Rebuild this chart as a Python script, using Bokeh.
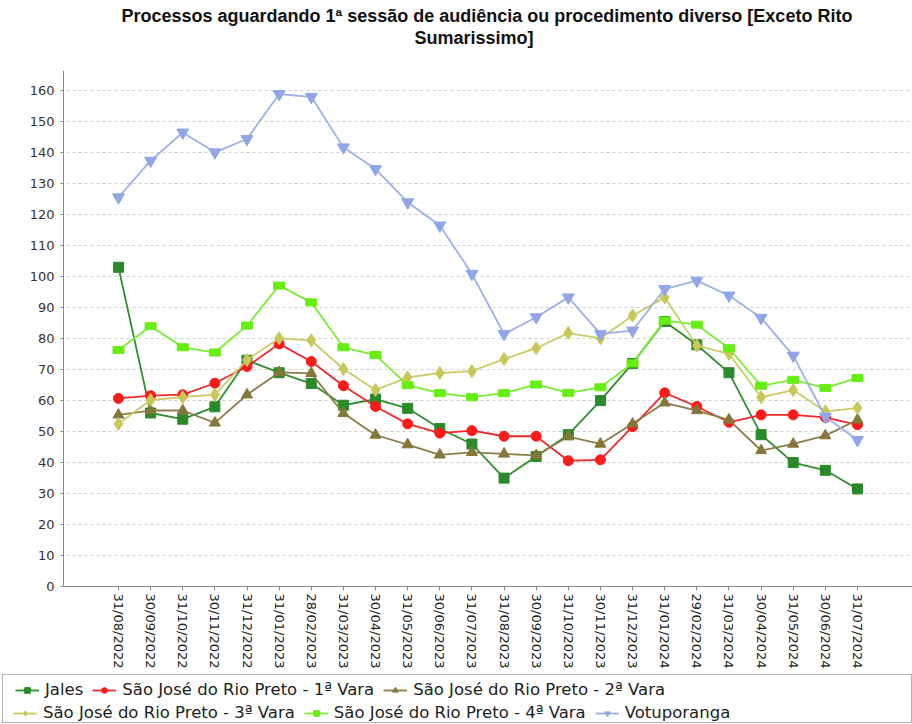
import math
from bokeh.plotting import figure
from bokeh.models import Range1d, FixedTicker, Legend, LegendItem, Title, BoxAnnotation
from bokeh.embed import file_html
from bokeh.resources import INLINE

dates = ["31/08/2022", "30/09/2022", "31/10/2022", "30/11/2022", "31/12/2022",
         "31/01/2023", "28/02/2023", "31/03/2023", "30/04/2023", "31/05/2023",
         "30/06/2023", "31/07/2023", "31/08/2023", "30/09/2023", "31/10/2023",
         "30/11/2023", "31/12/2023", "31/01/2024", "29/02/2024", "31/03/2024",
         "30/04/2024", "31/05/2024", "30/06/2024", "31/07/2024"]

jales = [103, 56, 54, 58, 73, 69, 65.5, 58.5, 60.5, 57.5, 51, 46, 35, 42, 49, 60,
         72, 85.5, 78, 69, 49, 40, 37.5, 31.5]
vara1 = [60.7, 61.6, 61.9, 65.6, 71, 78.3, 72.6, 64.8, 58.1, 52.5, 49.5, 50.3,
         48.5, 48.5, 40.6, 40.9, 51.6, 62.5, 58.1, 53, 55.4, 55.4, 54.6, 52.2]
vara2 = [55.4, 56.8, 56.8, 52.8, 61.9, 69.1, 68.8, 55.9, 48.9, 45.8, 42.5, 43.3,
         42.8, 42.3, 48.4, 46, 52.5, 59.3, 56.8, 53.8, 43.9, 46, 48.7, 53.8]
vara3 = [52.5, 60.2, 61.1, 61.9, 73.1, 80.1, 79.4, 70.2, 63.4, 67.5, 68.9, 69.5,
         73.4, 76.9, 81.8, 80.1, 87.4, 93.3, 77.7, 75.1, 61.1, 63.4, 56.5, 57.6]
vara4 = [76.3, 84, 77.2, 75.5, 84.2, 97.1, 91.7, 77.2, 74.7, 65, 62.4, 61.1,
         62.4, 65.2, 62.5, 64.3, 72, 85.8, 84.5, 76.9, 64.8, 66.7, 64.1, 67.3]
votu = [125.6, 137.4, 146.5, 140.1, 144.4, 158.9, 158, 141.7, 134.7, 124, 116.5,
        100.9, 81.5, 86.9, 93.3, 81.5, 82.6, 96, 98.7, 93.9, 86.7, 74.5, 54.8, 47.3]

series_names = ["Jales", "São José do Rio Preto - 1ª Vara", "São José do Rio Preto - 2ª Vara",
                "São José do Rio Preto - 3ª Vara", "São José do Rio Preto - 4ª Vara", "Votuporanga"]
y_ticks = list(range(0, 161, 10))

title_line1 = "Processos aguardando 1ª sessão de audiência ou procedimento diverso [Exceto Rito"
title_line2 = "Sumarissimo]"

xs = list(range(len(dates)))

# frame spans the whole width and reaches the bottom; axes are pinned at fixed positions
X0, X1 = -3.672, 24.712
Y0, Y1 = -44.5, 166.5
YAXIS_AT = -1.712

p = figure(width=912, height=724, output_backend="svg", toolbar_location=None,
           x_range=Range1d(X0, X1), y_range=Range1d(Y0, Y1),
           min_border_left=0, min_border_right=0, min_border_top=70, min_border_bottom=0)

tstyle = dict(align="left", text_font="Liberation Sans", text_font_size="18px",
              text_font_style="bold", text_color="#111111")
p.add_layout(Title(text=" ", standoff=1, align="center", text_font="Liberation Sans",
                   text_font_size="18px"), "above")
p.add_layout(Title(text=title_line2, standoff=0, offset=414, **tstyle), "above")
p.add_layout(Title(text=title_line1, standoff=0, offset=121, **tstyle), "above")

p.outline_line_color = None
p.background_fill_color = "white"

p.xgrid.visible = False
p.ygrid.ticker = FixedTicker(ticks=y_ticks)
p.ygrid.grid_line_color = "#cfcfcf"
p.ygrid.grid_line_dash = "3 3"
p.ygrid.grid_line_width = 1

# white mask so that grid lines start at the y axis (drawn under axes and glyphs)
p.add_layout(BoxAnnotation(right=YAXIS_AT, level="underlay", fill_color="white", fill_alpha=1.0,
                           line_color=None))

p.yaxis.fixed_location = YAXIS_AT
p.yaxis.bounds = (0, Y1)
p.yaxis.ticker = FixedTicker(ticks=y_ticks)
p.yaxis.minor_tick_line_color = None
p.yaxis.major_tick_out = 3
p.yaxis.major_tick_in = 0
p.yaxis.major_label_standoff = 6
p.yaxis.axis_line_color = "#888888"
p.yaxis.major_tick_line_color = "#888888"
p.yaxis.major_label_text_font = "DejaVu Sans"
p.yaxis.major_label_text_font_size = "13px"
p.yaxis.major_label_text_color = "#333333"

p.xaxis.fixed_location = 0
p.xaxis.bounds = (YAXIS_AT, X1)
p.xaxis.ticker = FixedTicker(ticks=xs)
p.xaxis.major_label_overrides = {i: d for i, d in enumerate(dates)}
p.xaxis.major_label_orientation = -math.pi / 2
p.xaxis.minor_tick_line_color = None
p.xaxis.major_tick_out = 4
p.xaxis.major_tick_in = 0
p.xaxis.major_label_standoff = 3
p.xaxis.axis_line_color = "#888888"
p.xaxis.major_tick_line_color = "#888888"
p.xaxis.major_label_text_font = "DejaVu Sans"
p.xaxis.major_label_text_font_size = "13px"
p.xaxis.major_label_text_color = "#222222"

styles = [
    dict(data=jales, color="#2f8f2f", fill="#2a8a2a", marker="square", size=10),
    dict(data=vara1, color="#ee2a2a", fill="#ff1a1a", marker="circle", size=10),
    dict(data=vara2, color="#8b7d45", fill="#85773a", marker="triangle", size=11),
    dict(data=vara3, color="#cccc66", fill="#c8c85a", marker="diamond", size=13),
    dict(data=vara4, color="#77ee33", fill="#66ee11", marker="rect", size=9),
    dict(data=votu, color="#9db0e8", fill="#90a6e6", marker="inverted_triangle", size=12),
]

items = []
for name, st in zip(series_names, styles):
    lr = p.line(xs, st["data"], line_color=st["color"], line_width=1.8)
    if st["marker"] == "rect":
        p.rect(xs, st["data"], width=11, height=7, width_units="screen", height_units="screen",
               fill_color=st["fill"], line_color=st["fill"])
        # legend-only marker, kept outside the visible y range
        lg = p.scatter(xs, [-1000 for _ in xs], marker="square", size=9,
                       fill_color=st["fill"], line_color=st["fill"])
        items.append(LegendItem(label=name, renderers=[lr, lg]))
    else:
        mr = p.scatter(xs, st["data"], marker=st["marker"], size=st["size"],
                       fill_color=st["fill"], line_color=st["fill"])
        items.append(LegendItem(label=name, renderers=[lr, mr]))

# outer legend frame drawn as an empty legend entry with an invisible glyph
ghost = p.line(xs, jales, line_alpha=0)
box = Legend(items=[LegendItem(label=" ", renderers=[ghost])], location=(2, 1),
             orientation="horizontal", padding=0, margin=0, spacing=0,
             glyph_width=1, glyph_height=47, label_width=907, label_height=47, label_standoff=0,
             border_line_color="#666666", border_line_width=1.5,
             background_fill_color="white", background_fill_alpha=1.0,
             label_text_font_size="10px")
p.add_layout(box, "center")

common = dict(orientation="horizontal", border_line_color=None, background_fill_alpha=0,
              label_text_font="DejaVu Sans", label_text_font_size="16.5px", label_text_color="#222222",
              glyph_width=24, glyph_height=14, label_height=16, label_standoff=6, spacing=9,
              margin=0, padding=0)
leg1 = Legend(items=items[:3], location=(15, 25), **common)
leg2 = Legend(items=items[3:], location=(13, 2), **common)
p.add_layout(leg1, "center")
p.add_layout(leg2, "center")

open("out.html", "w").write(file_html(p, INLINE))
